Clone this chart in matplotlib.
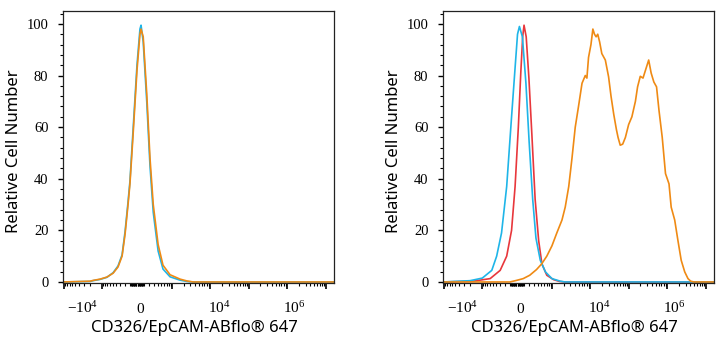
import numpy as np
import matplotlib
matplotlib.use("Agg")
import matplotlib.pyplot as plt
from matplotlib.ticker import FixedLocator, MultipleLocator, NullFormatter

plt.rcParams['mathtext.fontset'] = 'custom'
plt.rcParams['mathtext.rm'] = 'Liberation Serif'

# histogram curves, x in display channels (0-1000), y in % of max
left_ch = [0, 100, 111, 137, 162, 185, 203, 218, 229, 240, 247, 258, 273, 284, 288,
           296, 309, 321, 333, 351, 369, 395, 432, 457, 480, 1000]
left_blue = [0, 0.2, 0.5, 1.0, 1.8, 3.6, 6.2, 10.5, 19.5, 31, 39, 58, 84, 98, 99.5,
             93, 70, 45, 27, 12, 5, 2.0, 0.7, 0.2, 0, 0]
left_orange = [0, 0.3, 0.6, 1.1, 1.9, 3.4, 5.8, 10, 18.5, 30, 38, 56, 82, 96, 98,
               95, 73, 48, 30, 14.5, 6.5, 2.8, 1.1, 0.4, 0, 0]

right_blue_ch = [0, 100, 145, 180, 198, 216, 235, 253, 266, 275, 282, 293, 306, 318,
                 331, 343, 359, 378, 402, 433, 450, 1000]
right_blue = [0, 0.5, 1.5, 4.5, 10, 19, 37, 64, 83, 96, 99, 95, 77, 54,
              32, 17, 8.4, 3.9, 1.3, 0.3, 0, 0]

right_red_ch = [0, 111, 174, 211, 235, 253, 266, 278, 287, 294, 299, 307, 317, 328,
                340, 353, 365, 383, 408, 430, 450, 1000]
right_red = [0, 0.3, 1.3, 4.5, 10, 20, 37, 60, 81, 95, 99.5, 95, 79, 57,
             32, 16, 7, 2.6, 0.9, 0.2, 0, 0]

right_orange_ch = [0, 247, 271, 296, 320, 345, 364, 383, 402, 420, 439, 451, 464, 476,
                   488, 500, 513, 525, 531, 537, 546, 553, 559, 565, 571, 578, 586,
                   599, 611, 620, 630, 640, 646, 654, 663, 673, 685, 697, 710, 718,
                   728, 738, 747, 759, 768, 778, 788, 797, 809, 821, 834, 842, 855,
                   867, 879, 892, 904, 914, 926, 1000]
right_orange = [0, 0, 0.6, 1.3, 2.6, 4.8, 7, 10, 14, 19, 24, 29, 37, 48,
                60, 68, 77, 80, 79, 87, 92, 98, 96, 95, 96, 93, 88.5,
                86, 79.5, 72, 65, 59, 56, 53, 53.4, 56, 61, 64, 70, 75.6,
                79.7, 79, 82, 86, 81, 77.5, 75.6, 66.5, 56, 42, 38, 29, 24,
                16, 8.4, 3.9, 1.3, 0.3, 0, 0]

tick_labels = [r'$\mathregular{-10^{4}}$', '0', r'$\mathregular{10^{4}}$', r'$\mathregular{10^{6}}$']
tick_label_ch = [72, 286, 578, 852]

BLUE = '#1fb5e8'
ORANGE = '#ef8a14'
RED = '#e8373c'


def chan(v):
    # biexponential-style display transform used by the cytometer software
    return 273 + 61.6 * np.arcsinh(np.asarray(v, dtype=float) / 246.0)


decades = [-1e4, -1e3, 1e3, 1e4, 1e5, 1e6, 1e7]
minors = []
for k in range(1, 7):
    for m in range(1, 10):
        for s in (-1, 1):
            v = s * m * 10 ** k
            if v in decades:
                continue
            minors.append(v)
major_pos = [c for c in chan(decades) if 0 <= c <= 1000]
minor_pos = [c for c in chan(minors) if 0 <= c <= 1000]

fig = plt.figure(figsize=(7.27, 3.5), dpi=100)
ax1 = fig.add_axes([63 / 727, 67 / 350, 271 / 727, 272 / 350])
ax2 = fig.add_axes([443 / 727, 67 / 350, 271 / 727, 272 / 350])

ax1.plot(left_ch, left_blue, color=BLUE, lw=1.2)
ax1.plot(left_ch, left_orange, color=ORANGE, lw=1.2)

ax2.plot(right_red_ch, right_red, color=RED, lw=1.2)
ax2.plot(right_blue_ch, right_blue, color=BLUE, lw=1.2)
ax2.plot(right_orange_ch, right_orange, color=ORANGE, lw=1.2)

for ax in (ax1, ax2):
    ax.set_xlim(0, 1000)
    ax.set_ylim(-0.4, 105)
    for sp in ax.spines.values():
        sp.set_linewidth(0.9)
        sp.set_color('#222222')

    ax.yaxis.set_major_locator(FixedLocator([0, 20, 40, 60, 80, 100]))
    ax.yaxis.set_minor_locator(MultipleLocator(4))
    ax.tick_params(axis='y', which='major', length=3.5, width=1.0, pad=7,
                   labelsize=10.5, labelfontfamily='Liberation Serif')
    ax.tick_params(axis='y', which='minor', length=2, width=0.8)

    ax.xaxis.set_major_locator(FixedLocator(major_pos))
    ax.xaxis.set_minor_locator(FixedLocator(minor_pos))
    ax.xaxis.set_major_formatter(NullFormatter())
    ax.tick_params(axis='x', which='major', length=4.5, width=1.2)
    ax.tick_params(axis='x', which='minor', length=2.5, width=0.8)

    for lab, c in zip(tick_labels, tick_label_ch):
        ax.annotate(lab, xy=(c, 0), xycoords=('data', 'axes fraction'),
                    xytext=(0, -21.5), textcoords='offset points',
                    ha='center', va='baseline', fontsize=11,
                    family='Liberation Serif')

    ax.set_xlabel('CD326/EpCAM-ABflo® 647', fontsize=12, family='Noto Sans')
    ax.xaxis.set_label_coords(0.485, -0.135)
    ax.set_ylabel('Relative Cell Number', fontsize=12, family='Noto Sans')
    ax.yaxis.set_label_coords(-0.15, 0.485)

fig.savefig('out.png', dpi=100)
